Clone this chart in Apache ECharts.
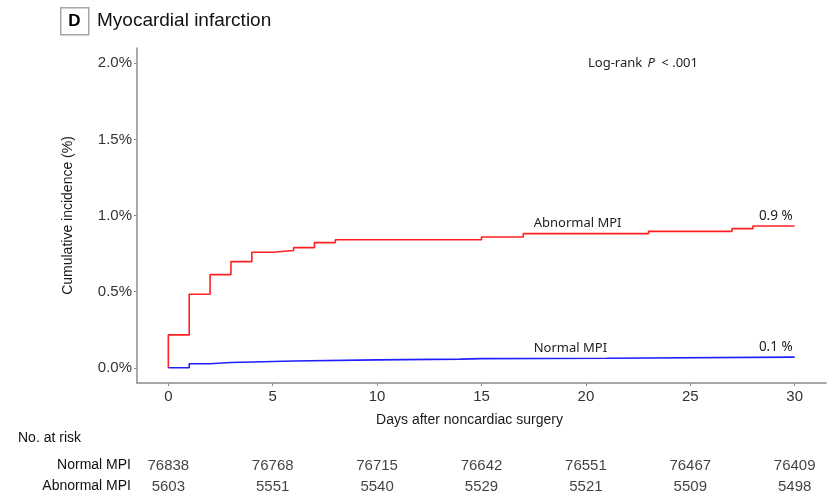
<!DOCTYPE html>
<html>
<head>
<meta charset="utf-8">
<script src="https://cdn.jsdelivr.net/npm/echarts@6/dist/echarts.min.js"></script>
<style>
  html, body { margin: 0; padding: 0; background: #fff; }
  #chart { width: 832px; height: 500px; }
</style>
</head>
<body>
<div id="chart"></div>
<script>
// Cumulative incidence of myocardial infarction (%) by day after surgery
const abnormalDays = [0, 0, 1, 2, 3, 4, 5, 6, 7, 8, 15, 17, 23, 27, 28, 30];
const abnormalInc  = [0, 0.216, 0.483, 0.612, 0.697, 0.759, 0.770, 0.789, 0.822, 0.841, 0.859, 0.881, 0.896, 0.914, 0.931, 0.931];
const normalDays   = [0, 1, 2, 3, 6, 10, 14, 15, 21, 30];
const normalInc    = [0, 0.026, 0.035, 0.044, 0.052, 0.057, 0.060, 0.063, 0.070, 0.070];

// Numbers at risk
const riskDays     = [0, 5, 10, 15, 20, 25, 30];
const riskGroups   = ['Normal MPI', 'Abnormal MPI'];
const riskNormal   = [76838, 76768, 76715, 76642, 76551, 76467, 76409];
const riskAbnormal = [5603, 5551, 5540, 5529, 5521, 5509, 5498];

// Axis ticks
const xTicks = [0, 5, 10, 15, 20, 25, 30];
const yTicks = [0, 0.5, 1.0, 1.5, 2.0];

const chart = echarts.init(document.getElementById('chart'), null, { renderer: 'canvas' });

const pairs = (xs, ys) => xs.map((x, i) => [x, ys[i]]);
const last = arr => arr[arr.length - 1];

const SANS = '"Liberation Sans", Arial, sans-serif';
const LABEL_FONT = '"Noto Sans", "Open Sans", sans-serif';
const AXIS_GREY = '#8c8c8c';

function curveMarks(days, inc, name) {
  const endVal = last(inc);
  // value on the curve where the group name sits
  const nameDay = 17.5;
  let nameVal = inc[0];
  days.forEach((d, i) => { if (d <= nameDay) nameVal = inc[i]; });
  return {
    silent: true,
    symbol: 'circle',
    symbolSize: 0,
    animation: false,
    data: [
      {
        coord: [nameDay, nameVal],
        label: {
          show: true, position: 'right', distance: 0, offset: [0, -10],
          formatter: name, color: '#222', fontFamily: LABEL_FONT, fontSize: 13
        }
      },
      {
        coord: [last(days), endVal],
        label: {
          show: true, position: 'left', distance: 2, offset: [0, -10],
          formatter: endVal.toFixed(1) + ' %', color: '#222', fontFamily: LABEL_FONT, fontSize: 13.5
        }
      }
    ]
  };
}

const riskData = [];
riskDays.forEach((d, i) => {
  riskData.push([d, riskGroups[0], riskNormal[i]]);
  riskData.push([d, riskGroups[1], riskAbnormal[i]]);
});

const option = {
  animation: false,
  backgroundColor: '#ffffff',
  grid: [
    { left: 137, right: 6, top: 48, bottom: 117, containLabel: false },
    { left: 137, right: 6, top: 455, height: 42, containLabel: false }
  ],
  xAxis: [
    {
      gridIndex: 0, type: 'value', min: -1.5, max: 31.5,
      name: 'Days after noncardiac surgery',
      nameLocation: 'middle', nameGap: 30,
      nameTextStyle: { fontFamily: SANS, fontSize: 14, color: '#1a1a1a', padding: [0, 24, 0, 0] },
      axisLine: { show: true, onZero: false, lineStyle: { color: AXIS_GREY, width: 1.5 } },
      axisTick: { show: true, length: 3, customValues: xTicks, lineStyle: { color: AXIS_GREY } },
      axisLabel: { customValues: xTicks, margin: 6, fontFamily: SANS, fontSize: 15, color: '#333' },
      splitLine: { show: false }
    },
    {
      gridIndex: 1, type: 'value', min: -1.5, max: 31.5, show: false
    }
  ],
  yAxis: [
    {
      gridIndex: 0, type: 'value', min: -0.1, max: 2.1,
      name: 'Cumulative incidence (%)',
      nameLocation: 'middle', nameGap: 62, nameRotate: 90,
      nameTextStyle: { fontFamily: SANS, fontSize: 14, color: '#1a1a1a' },
      axisLine: { show: true, onZero: false, lineStyle: { color: AXIS_GREY, width: 1.5 } },
      axisTick: { show: true, length: 3, customValues: yTicks, lineStyle: { color: AXIS_GREY } },
      axisLabel: {
        customValues: yTicks, margin: 5, fontFamily: SANS, fontSize: 15, color: '#333',
        formatter: v => v.toFixed(1) + '%'
      },
      splitLine: { show: false }
    },
    {
      gridIndex: 1, type: 'category', data: riskGroups, inverse: true,
      axisLine: { show: false }, axisTick: { show: false },
      axisLabel: { margin: 6, fontFamily: SANS, fontSize: 14, color: '#111' },
      splitLine: { show: false }
    }
  ],
  series: [
    {
      name: 'Abnormal MPI', type: 'line', step: 'end',
      xAxisIndex: 0, yAxisIndex: 0,
      data: pairs(abnormalDays, abnormalInc),
      showSymbol: false, symbol: 'none',
      lineStyle: { color: '#ff2020', width: 1.6 },
      markPoint: curveMarks(abnormalDays, abnormalInc, 'Abnormal MPI')
    },
    {
      name: 'Normal MPI', type: 'line', step: 'end',
      xAxisIndex: 0, yAxisIndex: 0,
      data: pairs(normalDays, normalInc),
      showSymbol: false, symbol: 'none',
      lineStyle: { color: '#2020ff', width: 1.6 },
      markPoint: curveMarks(normalDays, normalInc, 'Normal MPI')
    },
    {
      name: 'No. at risk', type: 'scatter',
      xAxisIndex: 1, yAxisIndex: 1,
      data: riskData,
      encode: { x: 0, y: 1 },
      symbolSize: 1,
      itemStyle: { color: 'rgba(0,0,0,0)' },
      label: {
        show: true, position: 'inside',
        formatter: p => String(p.value[2]),
        fontFamily: SANS, fontSize: 15, color: '#111'
      },
      silent: true
    }
  ],
  graphic: [
    {
      type: 'rect', left: 60, top: 7,
      shape: { width: 28, height: 27 },
      style: { fill: '#fff', stroke: '#a6a6a6', lineWidth: 1.5 }
    },
    {
      type: 'text', x: 74.5, y: 21.5,
      style: {
        text: 'D', font: 'bold 17px "Liberation Sans", Arial, sans-serif', fill: '#000',
        align: 'center', verticalAlign: 'middle'
      }
    },
    {
      type: 'text', x: 97, y: 21,
      style: {
        text: 'Myocardial infarction', font: '19px "Liberation Sans", Arial, sans-serif', fill: '#111',
        align: 'left', verticalAlign: 'middle'
      }
    },
    {
      type: 'text', x: 588, y: 63,
      style: {
        text: '{a|Log-rank }{p|P}{a| < .001}',
        verticalAlign: 'middle',
        rich: {
          a: { fontFamily: LABEL_FONT, fontSize: 13, fill: '#222' },
          p: { fontFamily: LABEL_FONT, fontSize: 13, fontStyle: 'italic', fill: '#222', padding: [0, 3, 0, 2] }
        }
      }
    },
    {
      type: 'text', x: 18, y: 438,
      style: {
        text: 'No. at risk', font: '14px "Liberation Sans", Arial, sans-serif', fill: '#111',
        verticalAlign: 'middle'
      }
    }
  ]
};

chart.setOption(option);
</script>
</body>
</html>
